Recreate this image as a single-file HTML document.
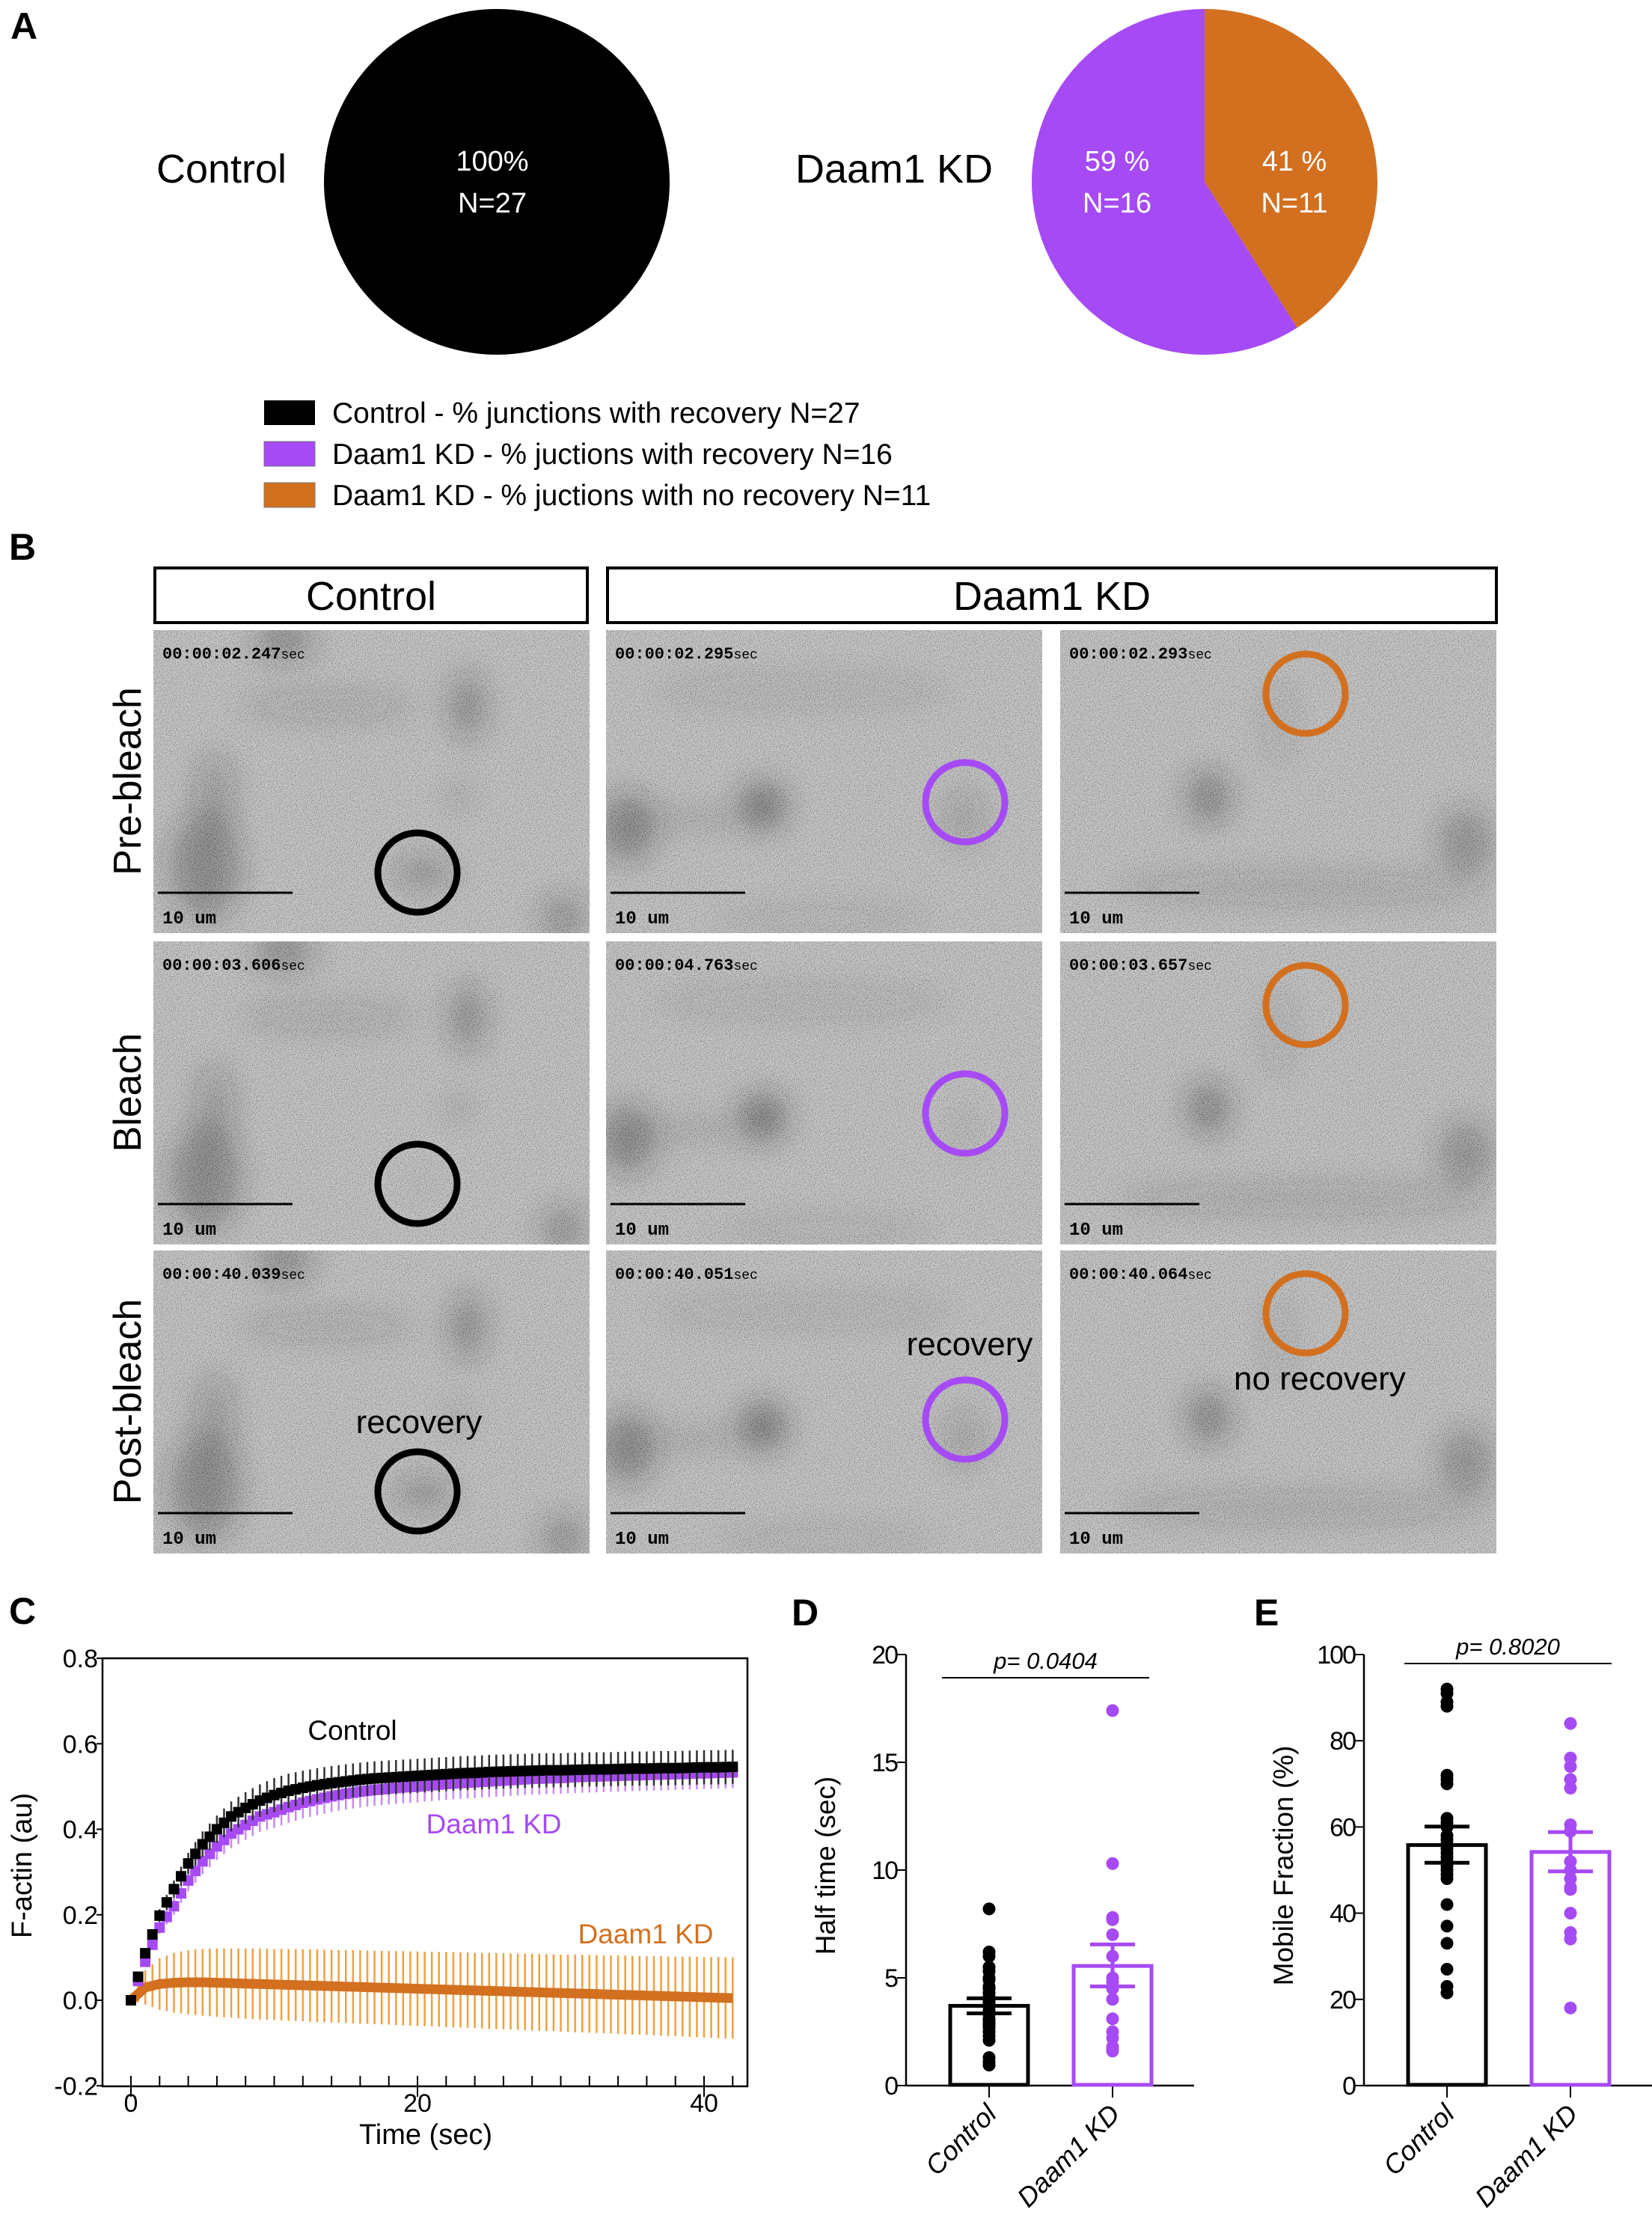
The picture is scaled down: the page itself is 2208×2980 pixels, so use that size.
<!DOCTYPE html>
<html><head><meta charset="utf-8">
<style>
html,body{margin:0;padding:0;background:#fff;}
svg{display:block;font-family:"Liberation Sans",Arial,sans-serif;}
</style></head>
<body>
<svg id="fig" width="2208" height="2980" viewBox="0 0 2208 2980" xmlns="http://www.w3.org/2000/svg">
<defs>
  <filter id="noise" x="0" y="0" width="100%" height="100%">
    <feTurbulence type="fractalNoise" baseFrequency="0.85" numOctaves="1" seed="3" result="t"/>
    <feColorMatrix type="matrix" in="t" values="3 0 0 0 -1  3 0 0 0 -1  3 0 0 0 -1  0 0 0 0 0.3"/>
  </filter>
  <filter id="blur20"><feGaussianBlur stdDeviation="20"/></filter>
</defs>

<!-- Panel A -->
<text x="14" y="52" font-size="50" font-weight="bold">A</text>
<text x="296" y="244" font-size="54" text-anchor="middle">Control</text>
<circle cx="664" cy="243" r="231" fill="#000"/>
<text x="658" y="228" font-size="38" fill="#fff" text-anchor="middle">100%</text>
<text x="658" y="284" font-size="38" fill="#fff" text-anchor="middle">N=27</text>
<text x="1195" y="244" font-size="54" text-anchor="middle">Daam1 KD</text>
<g id="pie2"></g>
<text x="1493" y="228" font-size="38" fill="#fff" text-anchor="middle">59 %</text>
<text x="1493" y="284" font-size="38" fill="#fff" text-anchor="middle">N=16</text>
<text x="1730" y="228" font-size="38" fill="#fff" text-anchor="middle">41 %</text>
<text x="1730" y="284" font-size="38" fill="#fff" text-anchor="middle">N=11</text>

<g>
  <rect x="353" y="535" width="68" height="33" fill="#000"/>
  <text x="444" y="565" font-size="39">Control - % junctions with recovery N=27</text>
  <rect x="353" y="590" width="68" height="33" fill="#a64af5" stroke="#777" stroke-width="1"/>
  <text x="444" y="620" font-size="39">Daam1 KD - % juctions with recovery N=16</text>
  <rect x="353" y="645" width="68" height="33" fill="#d27020" stroke="#777" stroke-width="1"/>
  <text x="444" y="675" font-size="39">Daam1 KD - % juctions with no recovery N=11</text>
</g>

<!-- Panel B -->
<text x="12" y="748" font-size="50" font-weight="bold">B</text>
<rect x="207" y="759" width="578" height="73" fill="#fff" stroke="#000" stroke-width="4"/>
<text x="496" y="815" font-size="54" text-anchor="middle">Control</text>
<rect x="812" y="759" width="1188" height="73" fill="#fff" stroke="#000" stroke-width="4"/>
<text x="1406" y="815" font-size="54" text-anchor="middle">Daam1 KD</text>
<text transform="translate(188,1044) rotate(-90)" font-size="52" text-anchor="middle">Pre-bleach</text>
<text transform="translate(188,1460) rotate(-90)" font-size="52" text-anchor="middle">Bleach</text>
<text transform="translate(188,1873) rotate(-90)" font-size="52" text-anchor="middle">Post-bleach</text>
<g id="micro"></g>

<!-- Panel C -->
<text x="12" y="2170" font-size="50" font-weight="bold">C</text>
<g id="chartC"></g>

<!-- Panel D -->
<text x="1058" y="2172" font-size="50" font-weight="bold">D</text>
<g id="chartD"></g>

<!-- Panel E -->
<text x="1676" y="2172" font-size="50" font-weight="bold">E</text>
<g id="chartE"></g>
</svg>

<script>
// ---------- Data ----------
const pieLabels = ["recovery", "no recovery"];
const pieValues = [59, 41];

const timeSec = [0,1,2,3,4,5,6,7,8,9,10,11,12,13,14,15,16,17,18,19,20,21,22,23,24,25,26,27,28,29,30,31,32,33,34,35,36,37,38,39,40,41,42];
const controlMean = [0,0.11,0.198,0.26,0.32,0.365,0.40,0.43,0.45,0.467,0.48,0.49,0.497,0.503,0.508,0.512,0.516,0.519,0.521,0.523,0.525,0.527,0.529,0.531,0.532,0.534,0.535,0.536,0.537,0.538,0.538,0.539,0.540,0.540,0.541,0.542,0.542,0.543,0.543,0.544,0.545,0.545,0.546];
const controlSem = [0,0.01,0.015,0.02,0.025,0.03,0.032,0.035,0.037,0.038,0.04,0.04,0.04,0.04,0.04,0.04,0.04,0.04,0.04,0.04,0.04,0.04,0.04,0.04,0.04,0.04,0.04,0.04,0.04,0.04,0.04,0.04,0.04,0.04,0.04,0.04,0.04,0.04,0.04,0.04,0.04,0.04,0.04];
const kdRecMean = [0,0.09,0.17,0.22,0.28,0.325,0.36,0.39,0.41,0.43,0.44,0.452,0.462,0.47,0.477,0.483,0.488,0.492,0.495,0.498,0.50,0.503,0.506,0.508,0.510,0.512,0.514,0.516,0.518,0.519,0.520,0.522,0.523,0.524,0.525,0.526,0.527,0.528,0.529,0.530,0.531,0.532,0.533];
const kdRecSem = [0,0.01,0.015,0.02,0.025,0.03,0.032,0.034,0.035,0.036,0.037,0.037,0.037,0.037,0.037,0.037,0.037,0.037,0.037,0.037,0.037,0.037,0.037,0.037,0.037,0.037,0.037,0.037,0.037,0.037,0.037,0.037,0.037,0.037,0.037,0.037,0.037,0.037,0.037,0.037,0.037,0.037,0.037];
const kdNoRecMean = [0,0.03,0.038,0.041,0.042,0.042,0.041,0.040,0.039,0.038,0.037,0.036,0.035,0.034,0.033,0.032,0.031,0.030,0.029,0.028,0.027,0.026,0.025,0.024,0.023,0.022,0.021,0.020,0.019,0.018,0.017,0.016,0.015,0.014,0.013,0.012,0.011,0.010,0.009,0.008,0.007,0.006,0.005];
const kdNoRecSem = [0,0.04,0.06,0.07,0.075,0.078,0.08,0.081,0.082,0.083,0.083,0.084,0.084,0.085,0.085,0.085,0.086,0.086,0.086,0.087,0.087,0.087,0.088,0.088,0.088,0.089,0.089,0.089,0.090,0.090,0.090,0.091,0.091,0.091,0.092,0.092,0.092,0.093,0.093,0.094,0.094,0.095,0.095];
const cYTicks = [-0.2, 0.0, 0.2, 0.4, 0.6, 0.8];
const cYTickLabels = ["-0.2","0.0","0.2","0.4","0.6","0.8"];
const cXTicks = [0, 20, 40];

const groups = ["Control", "Daam1 KD"];
const halfMean = [3.7, 5.55];
const halfSemLo = [3.35, 4.6];
const halfSemHi = [4.05, 6.55];
const halfControl = [8.2,6.2,6.0,5.5,5.3,5.0,4.9,4.5,4.3,4.1,3.9,3.7,3.5,3.3,3.1,3.0,2.9,2.7,2.5,2.3,2.1,1.3,1.1,0.95,3.8,4.6,2.8];
const halfDaam1 = [17.4,10.3,7.8,7.7,7.0,6.0,5.0,4.8,4.5,4.0,3.1,2.5,2.2,1.8,1.6,1.7];
const dYTicks = [0,5,10,15,20];

const mfMean = [55.8, 54.2];
const mfSemLo = [51.7, 49.7];
const mfSemHi = [60.1, 58.8];
const mfControl = [92,91,89,88,72,71,70,62,61,60,58,56,55,54,52,50,49,48,42,37,33,27,23,21.5,53,57,51];
const mfDaam1 = [84,76,74,71,69,60.5,59,50,48,46,45.5,40,35.5,34,18,52];
const eYTicks = [0,20,40,60,80,100];

const NS = "http://www.w3.org/2000/svg";
function mk(tag, attrs, parent) {
  const e = document.createElementNS(NS, tag);
  for (const k in attrs) e.setAttribute(k, attrs[k]);
  parent.appendChild(e);
  return e;
}
const colBlack = "#000", colPurple = "#a64af5", colOrange = "#d27020", colOrangeLight = "#f0a040", colPurpleLight = "#c88af8";

// ---------- Pie ----------
(function () {
  const g = document.getElementById("pie2");
  const cx = 1610, cy = 243, r = 231;
  const total = pieValues.reduce((a, b) => a + b, 0);
  const order = [1, 0];
  const cols = [colPurple, colOrange];
  let a0 = 0;
  order.forEach(i => {
    const a1 = a0 + pieValues[i] / total * Math.PI * 2;
    const x0 = cx + r * Math.sin(a0), y0 = cy - r * Math.cos(a0);
    const x1 = cx + r * Math.sin(a1), y1 = cy - r * Math.cos(a1);
    const large = (a1 - a0) > Math.PI ? 1 : 0;
    const p = mk("path", { d: `M${cx},${cy} L${x0},${y0} A${r},${r} 0 ${large} 1 ${x1},${y1} Z`, fill: cols[i] }, g);
    
    
    a0 = a1;
  });
})();

// ---------- Microscopy panels ----------
(function () {
  const g = document.getElementById("micro");
  const defs = document.querySelector("defs");
  const colX = [205, 810, 1417];
  const rowY = [842, 1258, 1671];
  const W = 583, H = 405;
  const stamps = [["00:00:02.247", "00:00:02.295", "00:00:02.293"],
                  ["00:00:03.606", "00:00:04.763", "00:00:03.657"],
                  ["00:00:40.039", "00:00:40.051", "00:00:40.064"]];
  const blobs = [
    [[0.12,0.78,45,70,0.45],[0.14,0.55,25,60,0.3],[0.3,0.03,40,25,0.45],[0.72,0.25,22,45,0.45],[0.4,0.25,120,18,0.2],[0.62,0.8,40,18,0.45],[0.94,0.95,30,30,0.4],[0.7,0.55,15,15,0.3]],
    [[0.05,0.65,35,45,0.5],[0.36,0.58,30,30,0.65],[0.2,0.62,80,12,0.2],[0.45,0.2,200,20,0.15],[0.82,0.62,25,40,0.25],[0.5,0.95,150,15,0.15]],
    [[0.34,0.55,28,35,0.5],[0.93,0.7,35,45,0.4],[0.55,0.85,250,20,0.2],[0.5,0.3,20,60,0.15]]
  ];
  const circ = [[[353,324],[480,230],[328,85]],[[353,324],[480,230],[328,85]],[[353,322],[480,226],[328,84]]];
  const circCol = [colBlack, colPurple, colOrange];
  for (let r = 0; r < 3; r++) for (let c = 0; c < 3; c++) {
    const x = colX[c], y = rowY[r];
    const cp = mk("clipPath", { id: "cp" + r + c }, defs);
    mk("rect", { x: x, y: y, width: W, height: H }, cp);
    const panel = mk("g", { "clip-path": "url(#cp" + r + c + ")" }, g);
    
    
    mk("rect", { x: x, y: y, width: W, height: H, fill: "#bdbdbd" }, panel);
    const bg = mk("g", { filter: "url(#blur20)" }, panel);
    blobs[c].forEach(b => {
      let op = b[4];
      if (c === 0 && r === 1 && b[0] === 0.62) op = 0.05;
      if (c === 1 && r === 1 && b[0] === 0.82) op = 0.08;
      mk("ellipse", { cx: x + b[0] * W, cy: y + b[1] * H, rx: b[2], ry: b[3], fill: "#222", opacity: op }, bg);
    });
    mk("rect", { x: x, y: y, width: W, height: H, fill: "#888", filter: "url(#noise)" }, panel);
    const ts = mk("text", { x: x + 12, y: y + 38, "font-size": 22, "font-weight": "bold", "font-family": "Liberation Mono, monospace" }, panel);
    ts.textContent = stamps[r][c];
    const ts2 = mk("tspan", { "font-size": 18, "font-weight": "normal" }, ts);
    ts2.textContent = "sec";
    mk("line", { x1: x + 6, x2: x + 186, y1: y + 351, y2: y + 351, stroke: "#000", "stroke-width": 3 }, panel);
    const sb = mk("text", { x: x + 12, y: y + 392, "font-size": 24, "font-weight": "bold", "font-family": "Liberation Mono, monospace" }, panel);
    sb.textContent = "10 um";
    const cc = circ[r][c];
    const ci = mk("circle", { cx: x + cc[0], cy: y + cc[1], r: 53, fill: "none", stroke: circCol[c], "stroke-width": 9 }, panel);
    
    
  }
  const notes = [[205 + 355, 1671 + 244, "recovery"], [810 + 486, 1671 + 140, "recovery"], [1417 + 347, 1671 + 186, "no recovery"]];
  notes.forEach(n => {
    const t = mk("text", { x: n[0], y: n[1], "font-size": 44, "text-anchor": "middle" }, g);
    t.textContent = n[2];
    
    
  });
})();

// ---------- Chart C ----------
(function () {
  const g = document.getElementById("chartC");
  const L = 137, R = 999, T = 2216, B = 2788;
  const x = t => 175 + (t - 0) / 40 * (941 - 175);
  const y = v => 2673 - v / 0.8 * (2673 - 2216);
  const fr = mk("rect", { x: L, y: T, width: R - L, height: B - T, fill: "none", stroke: "#000", "stroke-width": 2.5 }, g);
  
  
  cYTicks.forEach((v, i) => {
    mk("line", { x1: L - 8, x2: L, y1: y(v), y2: y(v), stroke: "#000", "stroke-width": 2 }, g);
    const t = mk("text", { x: L - 6, y: y(v) + 12, "font-size": 34, "text-anchor": "end" }, g);
    t.textContent = cYTickLabels[i];
    
    
  });
  for (let t = 0; t <= 42; t += 2) {
    const major = cXTicks.indexOf(t) >= 0;
    mk("line", { x1: x(t), x2: x(t), y1: B - 14, y2: B + (major ? 14 : 0), stroke: "#000", "stroke-width": 2 }, g);
  }
  cXTicks.forEach(v => {
    const t = mk("text", { x: x(v), y: 2822, "font-size": 34, "text-anchor": "middle" }, g);
    t.textContent = v;
    
    
  });
  const xt = mk("text", { x: 569, y: 2865, "font-size": 38, "text-anchor": "middle" }, g);
  xt.textContent = "Time (sec)";
  
  
  const yt = mk("text", { transform: "translate(42,2493) rotate(-90)", "font-size": 38, "text-anchor": "middle" }, g);
  yt.textContent = "F-actin (au)";
  
  

  function errs(mean, sem, col, name) {
    const eg = mk("g", { stroke: col, "stroke-width": 2.5 }, g);
    
    
    timeSec.forEach((t, i) => {
      mk("line", { x1: x(t), x2: x(t), y1: y(mean[i] - sem[i]), y2: y(mean[i] + sem[i]) }, eg);
      if (i < timeSec.length - 1) {
        const tm = (t + timeSec[i + 1]) / 2, mm = (mean[i] + mean[i + 1]) / 2, sm = (sem[i] + sem[i + 1]) / 2;
        mk("line", { x1: x(tm), x2: x(tm), y1: y(mm - sm), y2: y(mm + sm) }, eg);
      }
    });
  }
  function markers(mean, col, name) {
    const mg = mk("g", { fill: col }, g);
    
    
    timeSec.forEach((t, i) => {
      mk("rect", { x: x(t) - 7, y: y(mean[i]) - 7, width: 14, height: 14 }, mg);
      if (i < timeSec.length - 1) {
        const tm = (t + timeSec[i + 1]) / 2, mm = (mean[i] + mean[i + 1]) / 2;
        mk("rect", { x: x(tm) - 7, y: y(mm) - 7, width: 14, height: 14 }, mg);
      }
    });
  }
  errs(kdNoRecMean, kdNoRecSem, colOrangeLight, "daam1-norecovery-error-bars");
  const ol = mk("polyline", { points: timeSec.map((t, i) => x(t) + "," + y(kdNoRecMean[i])).join(" "), fill: "none", stroke: colOrange, "stroke-width": 13 }, g);
  
  
  errs(kdRecMean, kdRecSem, colPurpleLight, "daam1-recovery-error-bars");
  markers(kdRecMean, colPurple, "daam1-recovery-markers");
  errs(controlMean, controlSem, "#333", "control-error-bars");
  markers(controlMean, colBlack, "control-markers");

  const labs = [[471, 2325, "Control", "#000"], [660, 2450, "Daam1 KD", colPurple], [863, 2597, "Daam1 KD", colOrange]];
  labs.forEach(l => {
    const t = mk("text", { x: l[0], y: l[1], "font-size": 37, "text-anchor": "middle", fill: l[3] }, g);
    t.textContent = l[2];
    
    
  });
})();

// ---------- Dot/bar charts D & E ----------
function dotBar(gid, axX, axEnd, centers, yMax, ticks, means, lo, hi, pts, pLine, pText, yTitle) {
  const g = document.getElementById(gid);
  const y0 = 2787, yTop = 2211;
  const y = v => y0 - v / yMax * (y0 - yTop);
  const ax = mk("line", { x1: axX, x2: axX, y1: yTop, y2: y0, stroke: "#000", "stroke-width": 2.5 }, g);
  
  
  const xa = mk("line", { x1: axX, x2: axEnd, y1: y0, y2: y0, stroke: "#000", "stroke-width": 2.5 }, g);
  
  
  ticks.forEach(v => {
    mk("line", { x1: axX - 12, x2: axX, y1: y(v), y2: y(v), stroke: "#000", "stroke-width": 2 }, g);
    const t = mk("text", { x: axX - 12, y: y(v) + 12, "font-size": 34, "text-anchor": "end", "letter-spacing": "-2" }, g);
    t.textContent = v;
    
    
  });
  const cols = [colBlack, colPurple];
  centers.forEach((cx, i) => {
    mk("line", { x1: cx, x2: cx, y1: y0, y2: y0 + 16, stroke: "#000", "stroke-width": 2 }, g);
    const b = mk("rect", { x: cx - 52, y: y(means[i]), width: 104, height: y0 - y(means[i]) - 1, fill: "none", stroke: cols[i], "stroke-width": 5 }, g);
    
    
    const dg = mk("g", { fill: cols[i] }, g);
    
    
    pts[i].forEach(v => mk("circle", { cx: cx, cy: y(v), r: 8.5 }, dg));
    const eg = mk("g", { stroke: cols[i], "stroke-width": 5 }, g);
    
    
    mk("line", { x1: cx, x2: cx, y1: y(lo[i]), y2: y(hi[i]) }, eg);
    mk("line", { x1: cx - 30, x2: cx + 30, y1: y(lo[i]), y2: y(lo[i]) }, eg);
    mk("line", { x1: cx - 30, x2: cx + 30, y1: y(hi[i]), y2: y(hi[i]) }, eg);
    const t = mk("text", { transform: `translate(${cx + 12},${y0 + 40}) rotate(-45)`, "font-size": 36, "font-style": "italic", "text-anchor": "end" }, g);
    t.textContent = groups[i];
    
    
  });
  const pl = mk("line", { x1: pLine[0], x2: pLine[1], y1: pLine[2], y2: pLine[2], stroke: "#000", "stroke-width": 2 }, g);
  
  
  const pt = mk("text", { x: (pLine[0] + pLine[1]) / 2, y: pLine[2] - 12, "font-size": 31, "font-style": "italic", "text-anchor": "middle" }, g);
  pt.textContent = pText;
  
  
  const yt = mk("text", { transform: `translate(${axX - 95},2493) rotate(-90)`, "font-size": 37, "text-anchor": "middle" }, g);
  yt.textContent = yTitle;
  
  
}
dotBar("chartD", 1211, 1596, [1322, 1487], 20, dYTicks, halfMean, halfSemLo, halfSemHi, [halfControl, halfDaam1], [1259, 1536, 2242], "p= 0.0404", "Half time (sec)");
dotBar("chartE", 1823, 2208, [1934, 2099], 100, eYTicks, mfMean, mfSemLo, mfSemHi, [mfControl, mfDaam1], [1877, 2154, 2223], "p= 0.8020", "Mobile Fraction (%)");
</script>
</body></html>
